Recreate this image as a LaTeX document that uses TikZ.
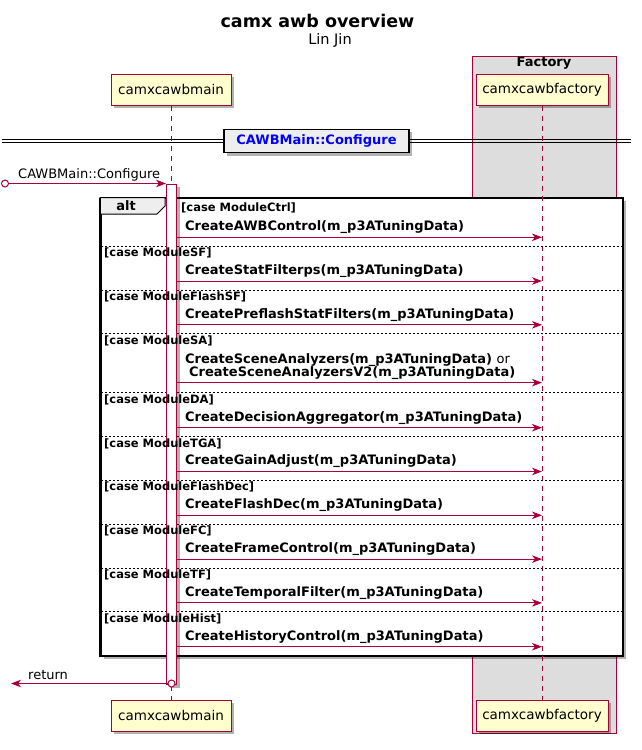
\documentclass[tikz,border=0pt]{standalone}
\usepackage{fontspec}
\setmainfont{DejaVu Sans}
\usetikzlibrary{arrows.meta,shadows}
\definecolor{crim}{HTML}{A80036}
\definecolor{pyel}{HTML}{FEFECE}
\definecolor{boxg}{HTML}{DDDDDD}
\definecolor{tabg}{HTML}{EEEEEE}
\newcommand\fsz[1]{\fontsize{#1pt}{#1pt}\selectfont}
\begin{document}
\begin{tikzpicture}[x=1pt,y=-1pt,
  shad/.style={drop shadow={shadow xshift=3pt,shadow yshift=-3pt,fill=black,opacity=0.3}},
  part/.style={draw=crim,fill=pyel,line width=1pt,minimum height=31pt,inner sep=0pt,font=\fsz{13.5},shad},
  life/.style={draw=crim,line width=0.8pt,dash pattern=on 5pt off 5pt},
  msg/.style={draw=crim,line width=0.9pt,-{Stealth[length=10pt,width=7.5pt,inset=3pt]}},
  mtxt/.style={anchor=west,inner sep=0pt,font=\bfseries\fsz{13}},
  guard/.style={anchor=west,inner sep=0pt,font=\bfseries\fsz{11.5}},
  sect/.style={draw=black,line width=0.6pt,dash pattern=on 2pt off 2pt},
]
\useasboundingbox (0,0) rectangle (642,750);
% title
\node[font=\bfseries\fsz{17.5},inner sep=0] (title) at (317.5,21) {camx awb overview};
\node[font=\fsz{14.5},inner sep=0] (author) at (330,40) {Lin Jin};
% factory box
\node[draw=crim,fill=boxg,line width=1pt,minimum width=144pt,minimum height=677pt,anchor=north west,inner sep=0] (facbox) at (472,56) {};
\node[font=\bfseries\fsz{13},inner sep=0] (factitle) at (544,63) {Factory};
% divider
\coordinate (dla) at (2,139.5); \coordinate (dlb) at (631,139.5);
\coordinate (dlc) at (2,142.5); \coordinate (dld) at (631,142.5);
\draw[line width=0.9pt] (dla) -- (dlb);
\draw[line width=0.9pt] (dlc) -- (dld);
\node[draw=black,line width=1.5pt,fill=tabg,minimum width=185pt,minimum height=23.4pt,font=\bfseries\fsz{13},text=blue,shad,inner sep=0] (cfg) at (316.5,141) {CAWBMain::Configure};
% alt frame
\node[draw=black,fill=white,line width=1.5pt,minimum width=522pt,minimum height=457.5pt,anchor=north west,shad,inner sep=0] (alt) at (100,197.5) {};
\draw[fill=tabg,line width=1pt] (100,197.5) -- (165,197.5) -- (165,206) -- (157,214) -- (100,214) -- cycle;
\draw[line width=1.5pt] (alt.north west) -- (alt.north east);
\draw[line width=1.5pt] (alt.north west) -- (alt.south west);
\node[font=\bfseries\fsz{13},inner sep=0] (alttxt) at (126,206) {alt};
% participants
\node[part,minimum width=120pt] (mainT) at (171,89.5) {camxcawbmain};
\node[part,minimum width=132pt] (facT) at (542,89.5) {camxcawbfactory};
\node[part,minimum width=120pt] (mainB) at (171,715.5) {camxcawbmain};
\node[part,minimum width=132pt] (facB) at (542,715.5) {camxcawbfactory};
\draw[life] (mainT) -- (mainB);
\draw[life] (facT) -- (facB);
% section dividers
\foreach \d [count=\i from 2] in {246,289.8,333.6,392.7,436.5,480.3,524.1,567.9,611.7}{
  \coordinate (dvl\i) at (100.8,\d);
  \coordinate (dvr\i) at (621.2,\d);
  \draw[sect] (dvl\i) -- (dvr\i);
}
% activation bar
\node[draw=crim,fill=white,line width=1pt,minimum width=10pt,minimum height=500.5pt,anchor=north,inner sep=0,shad] (act) at (171.5,183.5) {};
% guards (over the activation bar)
\node[guard] (g1) at (181,207.7) {[case ModuleCtrl]};
\foreach \d/\t [count=\i from 2] in {246/{[case ModuleSF]},289.8/{[case ModuleFlashSF]},333.6/{[case ModuleSA]},392.7/{[case ModuleDA]},436.5/{[case ModuleTGA]},480.3/{[case ModuleFlashDec]},524.1/{[case ModuleFC]},567.9/{[case ModuleTF]},611.7/{[case ModuleHist]}}{
  \node[guard] (g\i) at (104,\d+7) {\t};
}
% incoming
\node[circle,draw=crim,line width=1pt,minimum size=7pt,inner sep=0] (src) at (5,183.5) {};
\draw[msg] (src) -- (act.north west);
\node[anchor=west,inner sep=0,font=\fsz{13}] (inlbl) at (18,175) {CAWBMain::Configure};
% messages
\foreach \a/\t [count=\i] in {237.3/{CreateAWBControl(m\_p3ATuningData)},281/{CreateStatFilterps(m\_p3ATuningData)},324.8/{CreatePreflashStatFilters(m\_p3ATuningData)},427.7/{CreateDecisionAggregator(m\_p3ATuningData)},471.5/{CreateGainAdjust(m\_p3ATuningData)},515.3/{CreateFlashDec(m\_p3ATuningData)},559.1/{CreateFrameControl(m\_p3ATuningData)},602.9/{CreateTemporalFilter(m\_p3ATuningData)},646.7/{CreateHistoryControl(m\_p3ATuningData)}}{
  \coordinate (ms\i) at (176.5,\a);
  \coordinate (me\i) at (542,\a);
  \draw[msg] (ms\i) -- (me\i);
  \node[mtxt] (ml\i) at (185,\a-10) {\t};
}
% SA message (two lines)
\coordinate (msSA) at (176.5,382.6);
\coordinate (meSA) at (542,382.6);
\draw[msg] (msSA) -- (meSA);
\node[mtxt] (mlSA1) at (185,360) {CreateSceneAnalyzers(m\_p3ATuningData) {\mdseries or}};
\node[mtxt] (mlSA2) at (189,373.3) {CreateSceneAnalyzersV2(m\_p3ATuningData)};
% return
\node[circle,draw=crim,fill=white,line width=1pt,minimum size=7pt,inner sep=0] (retc) at (171.5,683.5) {};
\coordinate (retend) at (11,683.5);
\draw[msg] (retc) -- (retend);
\node[anchor=west,inner sep=0,font=\fsz{13}] (retlbl) at (28,675) {return};
\end{tikzpicture}
\end{document}
